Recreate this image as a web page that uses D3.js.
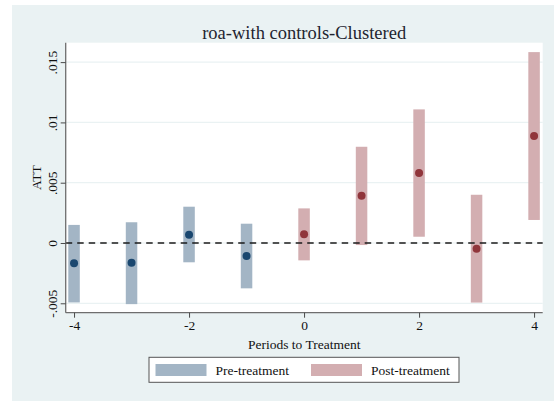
<!DOCTYPE html>
<html>
<head>
<meta charset="utf-8">
<script src="https://cdn.jsdelivr.net/npm/d3@7"></script>
<style>
  html, body { margin: 0; padding: 0; background: #ffffff; }
  text { font-family: "Liberation Serif", "Times New Roman", serif; }
</style>
</head>
<body>
<div id="chart"></div>
<script>
// event-study estimates
var periods = [-4, -3, -2, -1, 0, 1, 2, 3, 4];
var att     = [-0.00168, -0.00164, 0.00069, -0.00108, 0.00072, 0.00392, 0.0058, -0.00047, 0.00887];
var ciLow   = [-0.00493, -0.00507, -0.0016, -0.00376, -0.00144, -0.00017, 0.00052, -0.00494, 0.00191];
var ciHigh  = [0.0015, 0.00172, 0.00301, 0.0016, 0.00287, 0.00798, 0.01108, 0.004, 0.01583];

var xTicks = [-4, -2, 0, 2, 4];
var yTicks = [-0.005, 0, 0.005, 0.01, 0.015];
var yTickLabels = ["-.005", "0", ".005", ".01", ".015"];
var legendLabels = ["Pre-treatment", "Post-treatment"];

var W = 554, H = 401;
var BG = "#eaf2f3";
var PRE_BAR = "#a3b5c5", POST_BAR = "#d3aeb1";
var PRE_DOT = "#1a476f", POST_DOT = "#90353b";

var plot = {left: 65.7, right: 542.7, top: 42.7, bottom: 312.7};

var svg = d3.select("#chart").append("svg")
  .attr("width", W)
  .attr("height", H);

// outer panel
svg.append("rect")
  .attr("x", 12).attr("y", 5)
  .attr("width", W - 12).attr("height", H - 5)
  .attr("fill", BG);

// plot region
svg.append("rect")
  .attr("x", plot.left).attr("y", plot.top)
  .attr("width", plot.right - plot.left).attr("height", plot.bottom - plot.top)
  .attr("fill", "#ffffff");

var x = d3.scaleLinear()
  .domain([-4.145, 4.15])
  .range([plot.left, plot.right]);

var y = d3.scaleLinear()
  .domain([-0.00578, 0.01661])
  .range([plot.bottom, plot.top]);

// gridlines
svg.append("g")
  .selectAll("line")
  .data(yTicks)
  .join("line")
  .attr("x1", plot.left).attr("x2", plot.right)
  .attr("y1", function(d) { return y(d); })
  .attr("y2", function(d) { return y(d); })
  .attr("stroke", BG)
  .attr("stroke-width", 1.2);

// CI bars
var barW = x(0.1) - x(-0.1);
svg.append("g")
  .selectAll("rect")
  .data(periods)
  .join("rect")
  .attr("x", function(d) { return x(d) - barW / 2; })
  .attr("y", function(d, i) { return y(ciHigh[i]); })
  .attr("width", barW)
  .attr("height", function(d, i) { return y(ciLow[i]) - y(ciHigh[i]); })
  .attr("fill", function(d) { return d < 0 ? PRE_BAR : POST_BAR; });

// zero line
svg.append("line")
  .attr("x1", plot.left).attr("x2", plot.right)
  .attr("y1", y(0)).attr("y2", y(0))
  .attr("stroke", "#1b1b1b")
  .attr("stroke-width", 1.3)
  .attr("stroke-dasharray", "6.5,5");

// point estimates
svg.append("g")
  .selectAll("circle")
  .data(periods)
  .join("circle")
  .attr("cx", function(d) { return x(d); })
  .attr("cy", function(d, i) { return y(att[i]); })
  .attr("r", 4)
  .attr("fill", function(d) { return d < 0 ? PRE_DOT : POST_DOT; });

// axes
var xAxis = d3.axisBottom(x).tickValues(xTicks).tickSize(5).tickPadding(3)
  .tickFormat(function(d) { return d; });
var gx = svg.append("g")
  .attr("transform", "translate(0," + plot.bottom + ")")
  .call(xAxis);
gx.select(".domain").attr("d", "M" + plot.left + ",0H" + plot.right).attr("stroke", "#6e6e6e").attr("stroke-width", 1.3);
gx.selectAll(".tick line").attr("stroke", "#4a4a4a");
gx.selectAll(".tick text")
  .attr("font-size", 13.5)
  .attr("fill", "#111")
  .style("font-family", "Liberation Serif, serif");

var yAxis = d3.axisLeft(y).tickValues(yTicks).tickSize(5).tickPadding(3)
  .tickFormat(function(d, i) { return yTickLabels[i]; });
var gy = svg.append("g")
  .attr("transform", "translate(" + plot.left + ",0)")
  .call(yAxis);
gy.select(".domain").attr("d", "M0," + plot.top + "V" + plot.bottom).attr("stroke", "#6e6e6e").attr("stroke-width", 1.3);
gy.selectAll(".tick line").attr("stroke", "#4a4a4a");
gy.selectAll(".tick text")
  .attr("font-size", 13.5)
  .attr("fill", "#111")
  .attr("x", null).attr("dy", null)
  .attr("text-anchor", "middle")
  .attr("transform", "translate(-9,0) rotate(-90)")
  .style("font-family", "Liberation Serif, serif");

// title
svg.append("text")
  .attr("x", (plot.left + plot.right) / 2)
  .attr("y", 38.5)
  .attr("text-anchor", "middle")
  .attr("font-size", 18.5)
  .attr("fill", "#1e2430")
  .text("roa-with controls-Clustered");

// axis titles
svg.append("text")
  .attr("x", (plot.left + plot.right) / 2)
  .attr("y", 349)
  .attr("text-anchor", "middle")
  .attr("font-size", 13.5)
  .attr("fill", "#111")
  .text("Periods to Treatment");

svg.append("text")
  .attr("transform", "translate(40.5," + ((plot.top + plot.bottom) / 2) + ") rotate(-90)")
  .attr("text-anchor", "middle")
  .attr("font-size", 13.5)
  .attr("fill", "#111")
  .text("ATT");

// legend
var legend = svg.append("g");
legend.append("rect")
  .attr("x", 149).attr("y", 357.3)
  .attr("width", 310).attr("height", 25)
  .attr("fill", "#ffffff")
  .attr("stroke", "#555")
  .attr("stroke-width", 1);

var legX = [155.5, 311];
var legColors = [PRE_BAR, POST_BAR];
legend.selectAll("rect.sw")
  .data(legendLabels)
  .join("rect")
  .attr("class", "sw")
  .attr("x", function(d, i) { return legX[i]; })
  .attr("y", 364)
  .attr("width", 51)
  .attr("height", 12)
  .attr("fill", function(d, i) { return legColors[i]; });
legend.selectAll("text")
  .data(legendLabels)
  .join("text")
  .attr("x", function(d, i) { return legX[i] + 60; })
  .attr("y", 374.5)
  .attr("font-size", 13.5)
  .attr("fill", "#111")
  .text(function(d) { return d; });
</script>
</body>
</html>
